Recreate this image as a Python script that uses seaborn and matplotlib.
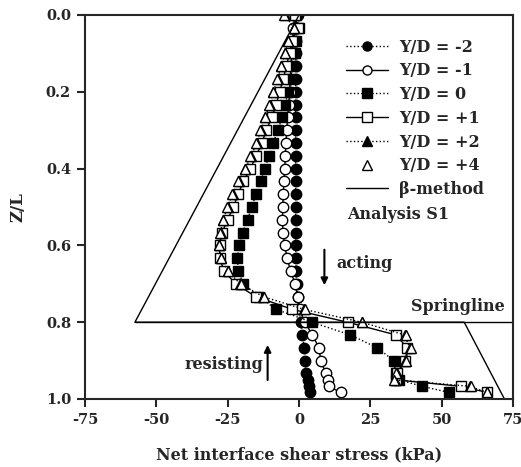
import numpy as np
import pandas as pd
import matplotlib
matplotlib.use("Agg")
import matplotlib.pyplot as plt
import seaborn as sns
from matplotlib.lines import Line2D

# ---- data ----
z_upper = [k / 30 for k in range(25)]
z_lower = [0.833, 0.867, 0.900, 0.933, 0.950, 0.967, 0.983]
z = z_upper + z_lower

yd_m2 = [-0.5, -1.0, -1.0, -1.1, -1.1, -1.1, -1.2, -1.2, -1.2, -1.2, -1.2, -1.2, -1.2,
         -1.2, -1.2, -1.2, -1.2, -1.2, -1.2, -1.1, -1.0, -0.8, -0.5, -0.3, 0.7,
         1.1, 1.9, 2.0, 2.5, 3.1, 3.5, 3.9]
yd_m1 = [-1.5, -2.0, -2.2, -2.5, -2.8, -3.0, -3.3, -3.6, -4.0, -4.3, -4.6, -4.8, -5.0,
         -5.3, -5.5, -5.7, -5.8, -5.6, -5.0, -4.2, -2.9, -1.4, -0.5, 0.3, 2.0,
         4.7, 7.0, 7.6, 9.4, 10.3, 10.5, 14.6]
yd_0 = [-1.0, 0.0, -1.0, -1.5, -2.2, -3.0, -3.8, -4.8, -5.8, -7.5, -9.0, -10.5, -12.0,
        -13.4, -15.0, -16.6, -18.0, -19.8, -21.0, -21.6, -21.3, -19.6, -14.0, -8.0, 4.5,
        18.0, 27.5, 33.2, 34.0, 35.0, 43.2, 52.6]
yd_p1 = [-1.5, -0.5, -2.5, -3.3, -4.5, -5.5, -6.8, -8.0, -9.5, -11.5, -13.0, -15.0, -17.0,
         -19.5, -21.3, -23.0, -25.0, -27.0, -27.8, -27.8, -26.3, -22.2, -15.2, -2.3, 17.0,
         33.9, 38.0, 37.2, 34.5, 33.9, 56.7, 66.0]
yd_p2 = [-5.0, -1.8, -3.8, -4.8, -6.2, -7.5, -9.0, -10.3, -11.8, -13.4, -14.8, -16.8, -18.8,
         -21.2, -23.3, -25.0, -26.6, -27.5, -28.0, -27.3, -25.0, -20.6, -12.6, 1.8, 22.0,
         37.0, 38.8, 37.2, 34.2, 33.5, 60.0, 65.8]
yd_p4 = [-5.3, -1.8, -4.0, -5.0, -6.4, -7.7, -9.2, -10.5, -12.0, -13.6, -15.0, -17.0, -19.0,
         -21.5, -23.5, -25.2, -26.8, -27.6, -28.2, -27.4, -25.0, -20.4, -12.3, 2.1, 22.2,
         37.4, 39.1, 37.4, 34.0, 33.3, 60.2, 66.0]

beta_x = [0.0, -57.5, 57.9, 72.0]
beta_z = [0.0, 0.8, 0.8, 1.0]
spring_x = [-57.5, 75.0]
spring_z = [0.8, 0.8]

labels = ["Y/D = -2", "Y/D = -1", "Y/D = 0", "Y/D = +1", "Y/D = +2", "Y/D = +4"]
x_ticks = [-75, -50, -25, 0, 25, 50, 75]
y_ticks = [0.0, 0.2, 0.4, 0.6, 0.8, 1.0]

# ---- style ----
sns.set_style("ticks")
plt.rcParams["font.family"] = ["DejaVu Serif"]
plt.rcParams["font.weight"] = "bold"

fig = plt.figure(figsize=(5.21, 4.67), dpi=100)
ax = fig.add_axes([85 / 521, 1 - 399 / 467, (513 - 85) / 521, (399 - 15) / 467])

series = [
    (yd_m2, "o", "black", ":"),
    (yd_m1, "o", "white", "-"),
    (yd_0, "s", "black", ":"),
    (yd_p1, "s", "white", "-"),
    (yd_p2, "^", "black", ":"),
    (yd_p4, "^", "white", ""),
]
ms = 7.5
for (vals, mk, fc, ls), lab in zip(series, labels):
    df = pd.DataFrame({"x": vals, "z": z})
    sns.lineplot(data=df, x="x", y="z", sort=False, estimator=None, ax=ax,
                 color="black", linewidth=1.0 if ls else 0, linestyle=ls if ls else "-",
                 marker=mk, markersize=ms, markerfacecolor=fc,
                 markeredgecolor="black", markeredgewidth=1.0, legend=False)

sns.lineplot(x=beta_x, y=beta_z, sort=False, estimator=None, ax=ax,
             color="black", linewidth=1.0, legend=False)
sns.lineplot(x=spring_x, y=spring_z, sort=False, estimator=None, ax=ax,
             color="black", linewidth=1.0, legend=False)

ax.set_xlim(-75, 75)
ax.set_ylim(1.0, 0.0)
ax.set_xticks(x_ticks)
ax.set_xticklabels([str(t) for t in x_ticks])
ax.set_yticks(y_ticks)
ax.set_yticklabels([f"{t:.1f}" for t in y_ticks])
for s in ax.spines.values():
    s.set_linewidth(1.5)
    s.set_visible(True)
ax.tick_params(axis="both", direction="out", length=6, width=1.5, labelsize=10.5,
               top=False, right=False, pad=4)
for t in ax.get_xticklabels() + ax.get_yticklabels():
    t.set_fontweight("bold")

ax.set_xlabel("Net interface shear stress (kPa)", fontsize=11.5, fontweight="bold", labelpad=14)
ax.set_ylabel("Z/L", fontsize=12, fontweight="bold", labelpad=14)

# legend
handles = []
for (vals, mk, fc, ls), lab in zip(series, labels):
    handles.append(Line2D([], [], color="black", linestyle=ls if ls else "None",
                          linewidth=1.0, marker=mk, markersize=6.5,
                          markerfacecolor=fc, markeredgecolor="black", label=lab))
handles.append(Line2D([], [], color="black", linewidth=1.0, label="β-method"))
leg = ax.legend(handles=handles, loc="upper left", bbox_to_anchor=(0.595, 0.955),
                frameon=False, fontsize=11.5, handlelength=2.6, handletextpad=0.7,
                labelspacing=0.42, borderaxespad=0)
for t in leg.get_texts():
    t.set_fontweight("bold")

# annotations
ax.text(17, 0.52, "Analysis S1", fontsize=11.5, fontweight="bold", va="center", ha="left")
ax.text(13.1, 0.646, "acting", fontsize=11.5, fontweight="bold", va="center", ha="left")
ax.text(-40.1, 0.911, "resisting", fontsize=11.5, fontweight="bold", va="center", ha="left")
ax.text(39.4, 0.76, "Springline", fontsize=11.5, fontweight="bold", va="center", ha="left")
ax.annotate("", xy=(8.9, 0.711), xytext=(8.9, 0.604),
            arrowprops=dict(arrowstyle="-|>", color="black", lw=1.5, mutation_scale=10))
ax.annotate("", xy=(-11.0, 0.852), xytext=(-11.0, 0.958),
            arrowprops=dict(arrowstyle="-|>", color="black", lw=1.5, mutation_scale=10))

fig.savefig("out.png", dpi=100)
